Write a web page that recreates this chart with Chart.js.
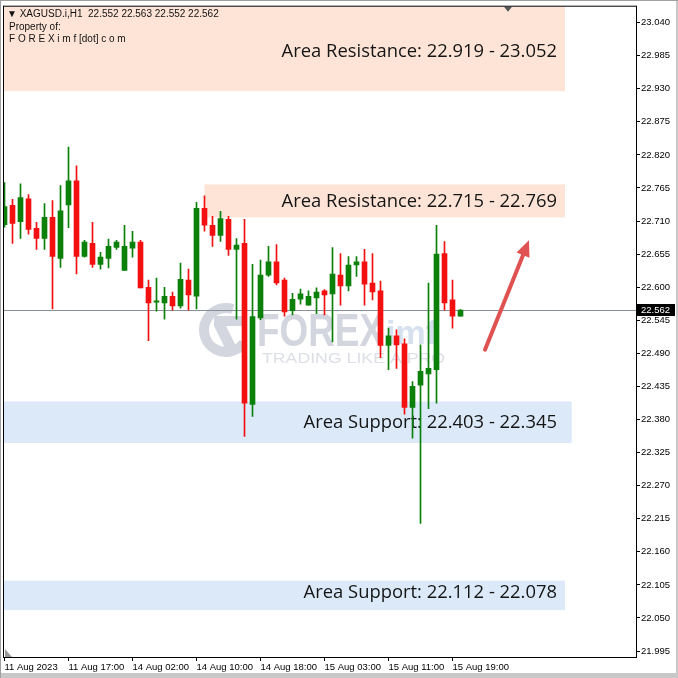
<!DOCTYPE html>
<html>
<head>
<meta charset="utf-8">
<script src="https://cdn.jsdelivr.net/npm/chart.js@4.4.1/dist/chart.umd.min.js"></script>
<style>
  html, body { margin: 0; padding: 0; background: #fff; overflow: hidden; }
</style>
</head>
<body>
<canvas id="chart" width="678" height="678"></canvas>
<script>
// XAGUSD H1 candles
let openArr  = [22.704,22.736,22.709,22.747,22.698,22.681,22.716,22.648,22.737,22.777,
                22.651,22.673,22.638,22.648,22.666,22.628,22.665,22.675,22.600,22.575,
                22.574,22.585,22.569,22.612,22.585,22.731,22.703,22.686,22.713,22.663,
                22.673,22.405,22.549,22.620,22.642,22.612,22.561,22.580,22.570,22.582,
                22.594,22.589,22.620,22.602,22.637,22.642,22.607,22.594,22.503,22.519,
                22.506,22.400,22.437,22.456,22.463,22.656,22.579,22.552];
let highArr  = [22.774,22.746,22.772,22.754,22.708,22.739,22.744,22.769,22.833,22.802,
                22.678,22.708,22.658,22.680,22.678,22.703,22.693,22.678,22.612,22.615,
                22.600,22.592,22.640,22.630,22.741,22.752,22.718,22.726,22.718,22.681,
                22.713,22.638,22.645,22.668,22.671,22.615,22.590,22.597,22.594,22.599,
                22.596,22.666,22.656,22.651,22.651,22.663,22.656,22.610,22.532,22.529,
                22.514,22.443,22.504,22.607,22.703,22.676,22.612,22.563];
let lowArr   = [22.700,22.673,22.681,22.688,22.663,22.663,22.564,22.633,22.699,22.622,
                22.650,22.633,22.630,22.632,22.663,22.628,22.650,22.599,22.511,22.560,
                22.547,22.562,22.565,22.562,22.564,22.693,22.668,22.676,22.653,22.547,
                22.352,22.385,22.546,22.618,22.604,22.552,22.554,22.572,22.570,22.556,
                22.554,22.509,22.570,22.594,22.618,22.570,22.579,22.483,22.463,22.465,
                22.389,22.349,22.207,22.398,22.407,22.562,22.532,22.552];
let closeArr = [22.734,22.706,22.749,22.696,22.681,22.716,22.651,22.727,22.777,22.651,
                22.675,22.638,22.650,22.668,22.675,22.668,22.675,22.599,22.574,22.577,
                22.585,22.569,22.613,22.587,22.731,22.703,22.686,22.714,22.663,22.670,
                22.407,22.551,22.620,22.642,22.607,22.559,22.580,22.589,22.585,22.592,
                22.587,22.622,22.602,22.637,22.642,22.605,22.592,22.503,22.519,22.504,
                22.400,22.435,22.460,22.465,22.655,22.574,22.552,22.562];

// time axis: bar index of each label
let xTickIdx    = [0, 8, 16, 24, 32, 40, 48, 56];
let xTickLabels = ["11 Aug 2023", "11 Aug 17:00", "14 Aug 02:00", "14 Aug 10:00",
                   "14 Aug 18:00", "15 Aug 03:00", "15 Aug 11:00", "15 Aug 19:00"];
let yTicks = [21.995, 22.050, 22.105, 22.160, 22.215, 22.270, 22.325, 22.380, 22.435, 22.490,
              22.545, 22.600, 22.655, 22.710, 22.765, 22.820, 22.875, 22.930, 22.985, 23.040];

// support / resistance zones
let zoneName  = ["Area Resistance", "Area Resistance", "Area Support", "Area Support"];
let zoneA     = [22.919, 22.715, 22.403, 22.112];
let zoneB     = [23.052, 22.769, 22.345, 22.078];
let zoneTop   = [23.080, 22.771, 22.410, 22.112];
let zoneBot   = [22.926, 22.716, 22.341, 22.063];
let zoneFrom  = [-1, 25, -1, -1];
let zoneTo    = [70.06, 70.06, 70.9, 70.06];

// red arrow (bar index, price)
let arrowX = [60.06, 65.56];
let arrowY = [22.496, 22.678];

let symbol = "XAGUSD.i,H1";

const GREEN = "#0b800b";
const RED = "#f21010";
let up = closeArr.map((c, i) => c >= openArr[i]);
let last = closeArr.length - 1;

const decor = {
  id: "decor",
  beforeDraw(chart) {
    let ctx = chart.ctx;
    ctx.save();
    ctx.fillStyle = "#fff";
    ctx.fillRect(0, 0, chart.width, chart.height);
    ctx.restore();
  },
  beforeDatasetsDraw(chart) {
    let {ctx, chartArea: a, scales: {x, y}} = chart;
    ctx.save();
    ctx.beginPath();
    ctx.rect(a.left, a.top, a.right - a.left, a.bottom - a.top);
    ctx.clip();

    // zones
    zoneTop.forEach((t, i) => {
      let x0 = Math.max(a.left, x.getPixelForValue(zoneFrom[i]));
      let x1 = x.getPixelForValue(zoneTo[i]);
      let y0 = y.getPixelForValue(t), y1 = y.getPixelForValue(zoneBot[i]);
      ctx.fillStyle = zoneName[i].indexOf("Resistance") >= 0 ? "#fde4d7" : "#dbe9f8";
      ctx.fillRect(x0, y0, x1 - x0, y1 - y0);
    });

    // watermark
    ctx.fillStyle = "#d3d6de";
    ctx.strokeStyle = "#d3d6de";
    ctx.lineWidth = 10;
    ctx.beginPath();
    ctx.arc(226, 330, 22, Math.PI * 0.2, Math.PI * 1.6);
    ctx.stroke();
    ctx.beginPath();
    ctx.moveTo(214, 316); ctx.lineTo(244, 316); ctx.lineTo(244, 326); ctx.lineTo(226, 326);
    ctx.lineTo(236, 346); ctx.lineTo(226, 350); ctx.lineTo(214, 326);
    ctx.closePath();
    ctx.fill();
    ctx.save();
    ctx.font = "bold 46px 'Liberation Sans'";
    let w = ctx.measureText("FOREX").width;
    ctx.translate(257, 346);
    ctx.scale(127 / w, 1);
    ctx.fillText("FOREX", 0, 0);
    ctx.restore();
    ctx.fillStyle = "#d6e0ee";
    ctx.font = "bold 34px 'Liberation Sans'";
    ctx.fillText("imf", 386, 344);
    ctx.fillStyle = "#dcdfe5";
    ctx.font = "14px 'Liberation Sans'";
    ctx.save();
    w = ctx.measureText("TRADING LIKE A PRO").width;
    ctx.translate(262, 363);
    ctx.scale(183 / w, 1);
    ctx.fillText("TRADING LIKE A PRO", 0, 0);
    ctx.restore();

    // zone captions
    ctx.fillStyle = "#151515";
    ctx.font = "18.4px 'Open Sans'";
    ctx.textAlign = "right";
    ctx.textBaseline = "middle";
    zoneA.forEach((v, i) => {
      let txt = zoneName[i] + ": " + v.toFixed(3) + " - " + zoneB[i].toFixed(3);
      let labelMid = y.getPixelForValue((v + zoneB[i]) / 2);
      let bandMid = (Math.max(a.top, y.getPixelForValue(zoneTop[i])) + y.getPixelForValue(zoneBot[i])) / 2;
      ctx.fillText(txt, x.getPixelForValue(70.06) - 8, (labelMid + bandMid) / 2);
    });

    // current price line
    let py = Math.round(y.getPixelForValue(closeArr[last])) + 0.5;
    ctx.strokeStyle = "#8a9099";
    ctx.lineWidth = 1;
    ctx.beginPath();
    ctx.moveTo(a.left, py);
    ctx.lineTo(a.right, py);
    ctx.stroke();
    ctx.restore();
  },
  afterDatasetsDraw(chart) {
    let {ctx, chartArea: a, scales: {x, y}} = chart;
    ctx.save();

    // arrow
    let ax0 = x.getPixelForValue(arrowX[0]), ay0 = y.getPixelForValue(arrowY[0]);
    let ax1 = x.getPixelForValue(arrowX[1]), ay1 = y.getPixelForValue(arrowY[1]);
    let ang = Math.atan2(ay1 - ay0, ax1 - ax0);
    ctx.strokeStyle = "#e05252";
    ctx.fillStyle = "#e05252";
    ctx.lineWidth = 4;
    ctx.lineCap = "round";
    ctx.beginPath();
    ctx.moveTo(ax0, ay0);
    ctx.lineTo(ax1 - 12 * Math.cos(ang), ay1 - 12 * Math.sin(ang));
    ctx.stroke();
    ctx.beginPath();
    ctx.moveTo(ax1, ay1);
    ctx.lineTo(ax1 - 16 * Math.cos(ang) + 7 * Math.sin(ang), ay1 - 16 * Math.sin(ang) - 7 * Math.cos(ang));
    ctx.lineTo(ax1 - 16 * Math.cos(ang) - 7 * Math.sin(ang), ay1 - 16 * Math.sin(ang) + 7 * Math.cos(ang));
    ctx.closePath();
    ctx.fill();

    // header text
    ctx.fillStyle = "#111";
    ctx.font = "10px 'Liberation Sans'";
    ctx.textBaseline = "alphabetic";
    ctx.fillText("\u25BC " + symbol + "  " + openArr[last].toFixed(3) + " " + highArr[last].toFixed(3) + " " +
                 lowArr[last].toFixed(3) + " " + closeArr[last].toFixed(3), 7, 17);
    ctx.fillText("Property of:", 9, 30);
    ctx.fillText("F O R E X i m f [dot] c o m", 9, 42);

    // little markers
    ctx.fillStyle = "#555";
    ctx.beginPath();
    ctx.moveTo(504, a.top); ctx.lineTo(512, a.top); ctx.lineTo(508, a.top + 5);
    ctx.closePath(); ctx.fill();
    ctx.fillStyle = "#999";
    ctx.beginPath();
    ctx.moveTo(a.left + 1, a.bottom - 8); ctx.lineTo(a.left + 1, a.bottom); ctx.lineTo(a.left + 8, a.bottom);
    ctx.closePath(); ctx.fill();

    // frame
    ctx.strokeStyle = "#000";
    ctx.lineWidth = 1;
    ctx.strokeRect(a.left - 0.5, a.top - 0.5, a.right - a.left + 1, a.bottom - a.top + 1);

    // current price tag
    let py = Math.round(y.getPixelForValue(closeArr[last]));
    ctx.fillStyle = "#000";
    ctx.fillRect(a.right + 1, py - 6, 38, 12);
    ctx.fillStyle = "#fff";
    ctx.font = "9.5px 'Liberation Sans'";
    ctx.textBaseline = "middle";
    ctx.fillText(closeArr[last].toFixed(3), a.right + 5, py + 0.5);

    // window border
    ctx.fillStyle = "#c8c8c8";
    ctx.fillRect(0, chart.height - 5, chart.width, 5);
    ctx.fillRect(chart.width - 2, 0, 2, chart.height);
    ctx.fillStyle = "#a0a0a0";
    ctx.fillRect(0, 0, chart.width, 1);
    ctx.fillRect(0, 0, 1, chart.height);
    ctx.restore();
  }
};

new Chart(document.getElementById("chart"), {
  type: "bar",
  data: {
    datasets: [
      {
        label: "wick",
        data: lowArr.map((l, i) => ({x: i, y: [l, highArr[i]]})),
        backgroundColor: up.map(u => u ? GREEN : RED),
        barThickness: 1,
        grouped: false,
        order: 2
      },
      {
        label: "body",
        data: openArr.map((o, i) => ({x: i, y: [o, closeArr[i]]})),
        backgroundColor: up.map(u => u ? GREEN : RED),
        barThickness: 5,
        minBarLength: 1.5,
        grouped: false,
        order: 1
      }
    ]
  },
  options: {
    responsive: false,
    animation: false,
    events: [],
    layout: {padding: {left: 4, top: 3, right: 0, bottom: 0}},
    plugins: {legend: {display: false}, tooltip: {enabled: false}},
    scales: {
      x: {
        type: "linear",
        position: "bottom",
        offset: false,
        min: -0.0625,
        max: 78.9375,
        afterBuildTicks: s => { s.ticks = xTickIdx.map(v => ({value: v})); },
        afterFit: s => { s.height = 21; },
        grid: {drawOnChartArea: false, offset: false, color: "#000", tickLength: 4},
        border: {color: "#000"},
        ticks: {
          autoSkip: false, maxRotation: 0, align: "start", padding: 1, color: "#000",
          font: {family: "'Liberation Sans'", size: 9.5},
          callback: v => xTickLabels[xTickIdx.indexOf(v)] || ""
        }
      },
      y: {
        type: "linear",
        position: "right",
        min: 21.98508,
        max: 23.06645,
        afterBuildTicks: s => { s.ticks = yTicks.map(v => ({value: v})); },
        afterFit: s => { s.width = 42; },
        grid: {drawOnChartArea: false, color: "#000", tickLength: 4},
        border: {color: "#000"},
        ticks: {
          autoSkip: false, padding: 1, color: "#000",
          font: {family: "'Liberation Sans'", size: 9.5},
          callback: v => v.toFixed(3)
        }
      }
    }
  },
  plugins: [decor]
});
</script>
</body>
</html>
